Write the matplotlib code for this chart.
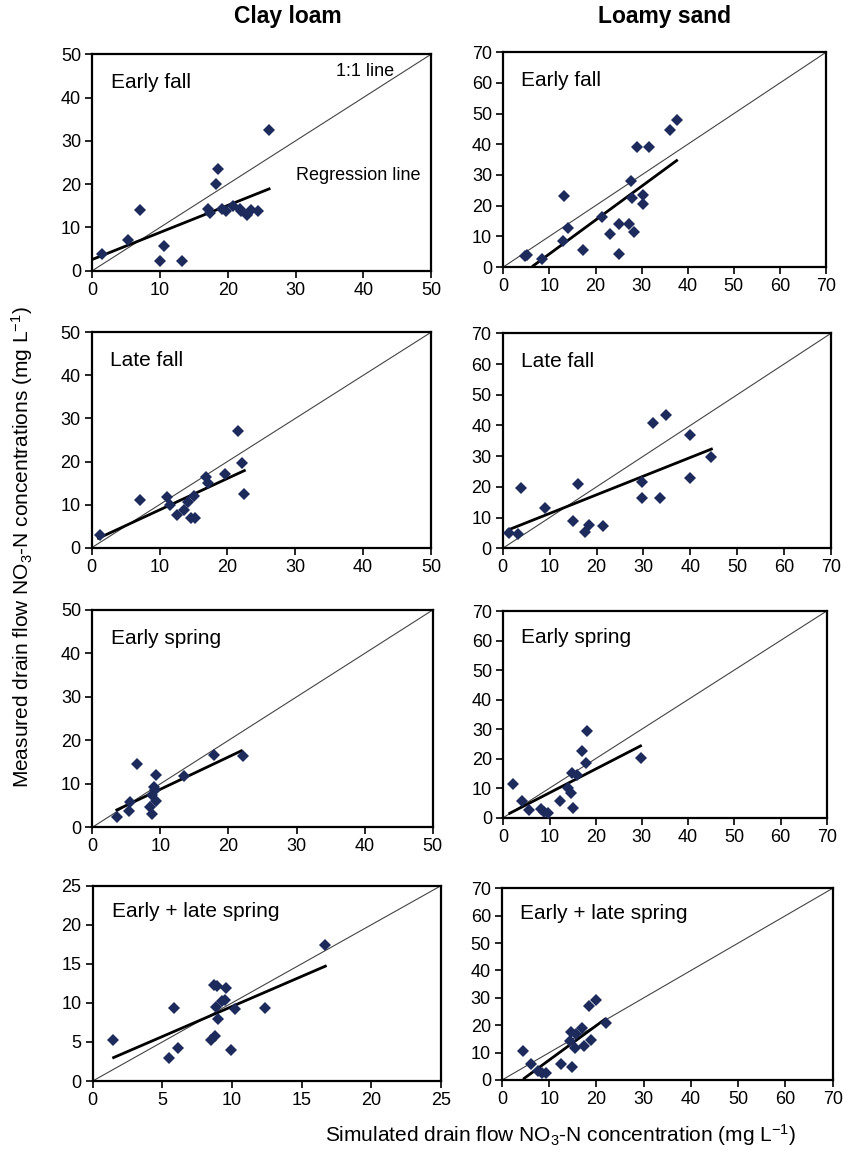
import matplotlib
matplotlib.use("Agg")
import matplotlib.pyplot as plt

plt.rcParams['font.family'] = ['Liberation Sans', 'DejaVu Sans']
plt.rcParams['mathtext.fontset'] = 'custom'
plt.rcParams['mathtext.rm'] = 'Liberation Sans'
plt.rcParams['mathtext.it'] = 'Liberation Sans'

# ---- data (simulated x, measured y) ----
cl_ef_x = [1.4, 5.2, 7.1, 10.0, 10.6, 13.2, 17.1, 17.4, 18.3, 18.5, 19.1, 19.8, 20.8, 21.8, 22.0, 22.8, 23.5, 24.5, 26.1]
cl_ef_y = [3.8, 7.1, 14.0, 2.2, 5.8, 2.2, 14.3, 13.4, 20.0, 23.5, 14.2, 13.9, 14.9, 14.2, 13.7, 12.9, 14.0, 13.9, 32.5]
cl_ef_reg = ([0.0, 26.1], [2.6, 18.9])

ls_ef_x = [4.6, 5.2, 8.5, 12.9, 13.2, 14.0, 17.2, 21.4, 23.2, 25.0, 25.1, 27.2, 27.8, 27.9, 28.3, 29.1, 30.2, 30.2, 31.7, 36.2, 37.6]
ls_ef_y = [3.5, 3.8, 2.6, 8.4, 23.0, 12.7, 5.6, 16.3, 10.9, 14.1, 4.3, 14.1, 27.9, 22.5, 11.3, 39.1, 23.6, 20.6, 39.1, 44.7, 48.0]
ls_ef_reg = ([6.5, 37.6], [0.4, 34.7])

cl_lf_x = [1.2, 7.1, 11.1, 11.5, 12.6, 13.6, 14.2, 14.7, 15.1, 15.2, 16.9, 17.2, 19.7, 21.5, 22.1, 22.5]
cl_lf_y = [2.9, 11.1, 11.8, 9.8, 7.6, 8.7, 10.7, 6.8, 12.0, 6.8, 16.5, 15.1, 17.1, 27.1, 19.7, 12.5]
cl_lf_reg = ([1.0, 22.5], [2.2, 17.9])

ls_lf_x = [1.4, 3.3, 3.8, 9.0, 14.9, 16.0, 17.6, 18.5, 21.3, 29.6, 29.8, 32.1, 33.5, 34.8, 39.9, 39.9, 44.5]
ls_lf_y = [4.9, 4.6, 19.5, 13.0, 9.0, 20.9, 5.2, 7.6, 7.1, 16.3, 21.5, 40.9, 16.3, 43.4, 36.9, 22.8, 29.8]
ls_lf_reg = ([1.2, 44.5], [6.0, 32.3])

cl_es_x = [3.6, 5.4, 5.6, 6.6, 8.5, 8.7, 8.7, 9.0, 9.3, 9.35, 9.2, 13.4, 17.9, 22.1]
cl_es_y = [2.3, 3.7, 5.9, 14.6, 4.6, 3.1, 7.4, 9.3, 12.0, 6.1, 8.5, 11.8, 16.6, 16.5]
cl_es_reg = ([3.6, 21.9], [4.0, 17.6])

ls_es_x = [2.2, 4.0, 5.6, 8.1, 8.8, 9.7, 12.3, 13.9, 14.6, 14.8, 15.0, 16.0, 17.1, 17.9, 18.2, 29.9]
ls_es_y = [11.4, 5.8, 2.6, 2.8, 2.0, 1.7, 5.8, 9.9, 8.5, 15.0, 3.2, 14.5, 22.6, 18.4, 29.4, 20.1]
ls_es_reg = ([1.4, 29.7], [1.5, 24.3])

cl_els_x = [1.44, 5.5, 5.8, 6.1, 8.5, 8.7, 8.8, 8.85, 8.9, 9.0, 9.3, 9.5, 9.6, 9.9, 10.2, 12.4, 16.7]
cl_els_y = [5.3, 2.9, 9.3, 4.2, 5.3, 12.3, 5.7, 9.5, 12.1, 7.9, 10.2, 10.4, 11.9, 4.0, 9.2, 9.3, 17.4]
cl_els_reg = ([1.5, 16.7], [3.0, 14.7])

ls_els_x = [4.5, 6.1, 7.7, 8.4, 9.3, 12.4, 14.4, 14.5, 14.75, 15.5, 15.7, 16.9, 17.4, 18.5, 18.8, 20.0, 22.0]
ls_els_y = [10.6, 5.8, 3.4, 2.4, 2.7, 5.7, 14.2, 17.4, 4.6, 11.6, 16.7, 18.9, 12.4, 27.0, 14.6, 29.2, 20.9]
ls_els_reg = ([4.7, 21.8], [0.6, 22.2])

panel_titles = ["Early fall", "Early fall", "Late fall", "Late fall",
                "Early spring", "Early spring", "Early + late spring", "Early + late spring"]
axis_max = [50, 70, 50, 70, 50, 70, 25, 70]
tick_step = [10, 10, 10, 10, 10, 10, 5, 10]
column_titles = ["Clay loam", "Loamy sand"]

panels = [(cl_ef_x, cl_ef_y, cl_ef_reg), (ls_ef_x, ls_ef_y, ls_ef_reg),
          (cl_lf_x, cl_lf_y, cl_lf_reg), (ls_lf_x, ls_lf_y, ls_lf_reg),
          (cl_es_x, cl_es_y, cl_es_reg), (ls_es_x, ls_es_y, ls_es_reg),
          (cl_els_x, cl_els_y, cl_els_reg), (ls_els_x, ls_els_y, ls_els_reg)]

# axes pixel boxes (left, right, top, bottom)
W, H = 843, 1151
boxes = [(92.3, 431, 54.3, 270.7), (503.3, 826, 52.3, 267),
         (91.7, 431, 332.3, 547.7), (502.7, 831, 333.3, 548.3),
         (92.3, 432.7, 610, 827.3), (503.3, 826.7, 611, 817.7),
         (92.7, 441, 885.7, 1081), (502, 832.7, 888.3, 1080)]

fig = plt.figure(figsize=(W / 100, H / 100), dpi=100)
navy = '#1c2a5c'
axes = []
for i, ((xs, ys, reg), box) in enumerate(zip(panels, boxes)):
    l, r, t, b = box
    ax = fig.add_axes([l / W, 1 - b / H, (r - l) / W, (b - t) / H])
    m = axis_max[i]
    ax.plot([0, m], [0, m], color='#444444', lw=0.8, zorder=1)
    ax.plot(reg[0], reg[1], color='black', lw=2.0, zorder=2)
    ax.plot(xs, ys, linestyle='none', marker='D', markersize=6.3,
            color=navy, markeredgewidth=0, zorder=3)
    ax.set_xlim(0, m)
    ax.set_ylim(0, m)
    ticks = list(range(0, m + 1, tick_step[i]))
    ax.set_xticks(ticks)
    ax.set_yticks(ticks)
    ax.tick_params(direction='out', length=5, width=1.2, labelsize=13, pad=3,
                   colors='black')
    for s in ax.spines.values():
        s.set_linewidth(1.6)
    ax.text(0.055, 0.87, panel_titles[i], transform=ax.transAxes, fontsize=15,
            va='center', ha='left')
    axes.append(ax)

axes[0].text(0.72, 0.92, "1:1 line", transform=axes[0].transAxes, fontsize=13,
             va='center', ha='left')
axes[0].text(0.60, 0.44, "Regression line", transform=axes[0].transAxes, fontsize=13,
             va='center', ha='left')

fig.text(288 / W, 1 - 16 / H, column_titles[0], fontsize=16.5, fontweight='bold',
         ha='center', va='center')
fig.text(665 / W, 1 - 16 / H, column_titles[1], fontsize=16.5, fontweight='bold',
         ha='center', va='center')

fig.text(22 / W, 1 - 547 / H,
         r"Measured drain flow NO$_3$-N concentrations (mg L$^{-1}$)",
         rotation=90, fontsize=15, ha='center', va='center')
fig.text(561 / W, 1 - 1135 / H,
         r"Simulated drain flow NO$_3$-N concentration (mg L$^{-1}$)",
         fontsize=15, ha='center', va='center')

fig.savefig("out.png", dpi=100, facecolor='white')
